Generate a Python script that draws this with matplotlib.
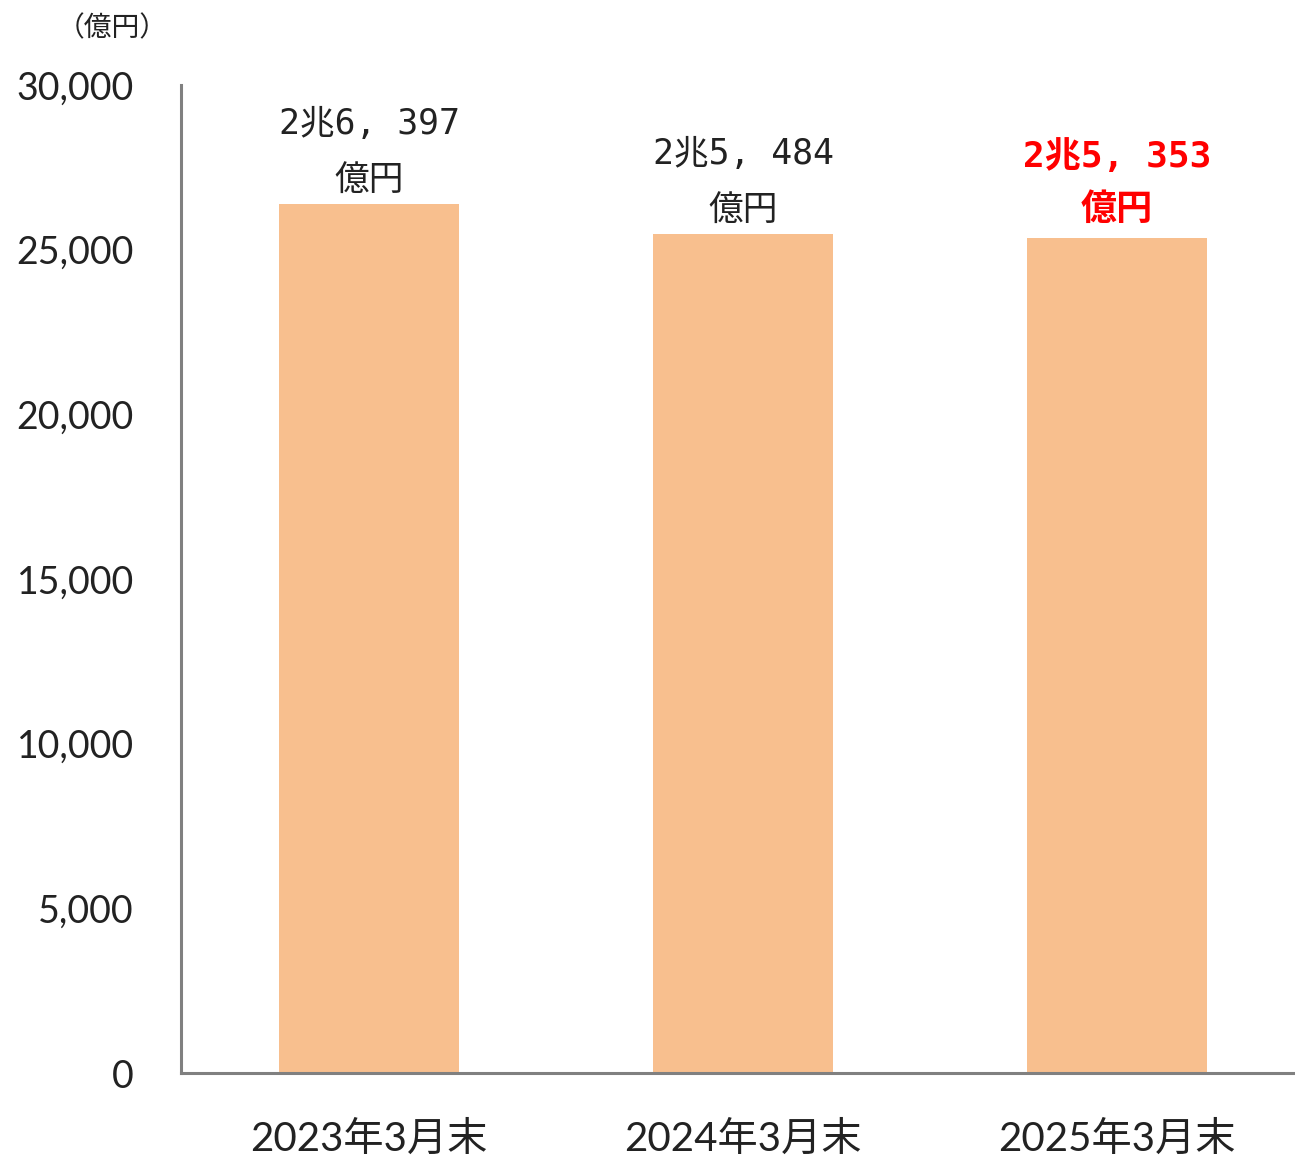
import matplotlib.pyplot as plt

categories = ["2023年3月末", "2024年3月末", "2025年3月末"]
values = [26397, 25484, 25353]
value_labels = ["2兆6, 397\n億円", "2兆5, 484\n億円", "2兆5, 353\n億円"]
label_colors = ["#222222", "#222222", "#ff0000"]
yticks = [0, 5000, 10000, 15000, 20000, 25000, 30000]

cjk = ["Noto Sans CJK JP", "DejaVu Sans"]
mono_cjk = ["DejaVu Sans Mono", "Noto Sans CJK JP"]
num_font = ["Lato", "Noto Sans CJK JP"]

fig = plt.figure(figsize=(12.95, 11.57), dpi=100)
ax = fig.add_axes([181 / 1295, (1157 - 1073) / 1157, 1 - 181 / 1295, (1073 - 85) / 1157])

x = range(len(categories))
ax.bar(x, values, width=0.48, color="#f8bf8e", zorder=2)

ax.set_xlim(-0.503, 2.476)
ax.set_ylim(0, 30000)
ax.set_yticks(yticks)
ax.set_yticklabels([f"{v:,}" for v in yticks], family=num_font, fontsize=27, color="#222222")
ax.set_xticks(list(x))
ax.set_xticklabels(categories, family=num_font, fontsize=29, color="#222222")
ax.tick_params(axis="y", length=0, pad=34)
ax.tick_params(axis="x", length=0, pad=34)

for side in ["top", "right"]:
    ax.spines[side].set_visible(False)
for side in ["left", "bottom"]:
    ax.spines[side].set_color("#808080")
    ax.spines[side].set_linewidth(2.2)

for i, (v, lab, c) in enumerate(zip(values, value_labels, label_colors)):
    red = c == "#ff0000"
    ax.annotate(lab, (i, v), xytext=(0, 8 if red else 4), textcoords="offset points",
                ha="center", va="bottom", family=mono_cjk, fontsize=26 if red else 25,
                fontweight="bold" if red else "normal", color=c,
                linespacing=1.7 if red else 1.85)

fig.text(112 / 1295, 1 - 28 / 1157, "（億円）", family=cjk, fontsize=20,
         ha="center", va="center", color="#222222")

fig.savefig("out.png", dpi=100)
